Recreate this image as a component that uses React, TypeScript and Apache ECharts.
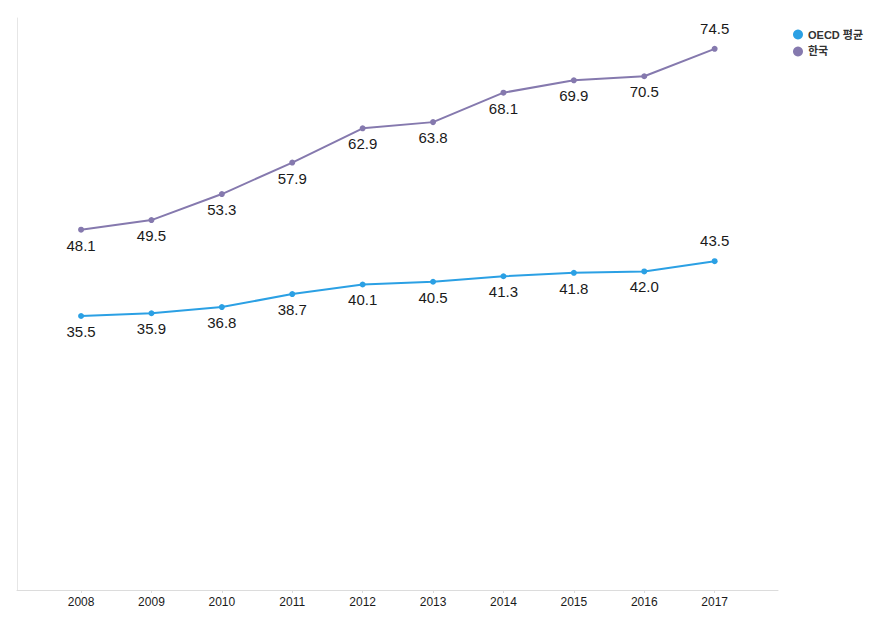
import React, { useEffect, useRef } from "react";
import * as echarts from "echarts";

const years = [2008, 2009, 2010, 2011, 2012, 2013, 2014, 2015, 2016, 2017];
const oecd = [35.5, 35.9, 36.8, 38.7, 40.1, 40.5, 41.3, 41.8, 42.0, 43.5];
const korea = [48.1, 49.5, 53.3, 57.9, 62.9, 63.8, 68.1, 69.9, 70.5, 74.5];
const seriesNames = ["OECD 평균", "한국"];

const FONT = "'Liberation Sans', Arial, 'Noto Sans CJK KR', sans-serif";

function mkData(vals: number[]) {
  return vals.map((v, i) => {
    const last = i === vals.length - 1;
    return {
      value: [years[i], v],
      label: last ? { position: "top", distance: 10 } : { position: "bottom", distance: 5 },
    };
  });
}

export default function App() {
  const ref = useRef<HTMLDivElement>(null);
  useEffect(() => {
    const chart = echarts.init(ref.current!, null, { renderer: "svg" });
    const labelCommon = {
      show: true,
      fontSize: 15,
      color: "#1a1a1a",
      fontFamily: FONT,
      formatter: (p: any) => p.value[1].toFixed(1),
    };
    chart.setOption({
      animation: false,
      backgroundColor: "#fff",
      grid: { left: 17, right: 100, top: 18, bottom: 30, containLabel: false },
      legend: {
        orient: "vertical",
        left: 788,
        top: 24,
        itemWidth: 10,
        itemHeight: 10,
        itemGap: 6,
        icon: "circle",
        textStyle: { fontSize: 11, color: "#333", fontFamily: FONT, fontWeight: "bold" },
        data: seriesNames,
      },
      xAxis: {
        type: "value",
        min: 2007.09,
        max: 2017.9,
        axisLine: { show: true, onZero: false, lineStyle: { color: "#dcdcdc", width: 1 } },
        axisTick: { show: true, customValues: years, length: 3, lineStyle: { color: "#dcdcdc" } },
        axisLabel: {
          customValues: years,
          fontSize: 12,
          color: "#1a1a1a",
          margin: 6,
          fontFamily: FONT,
          formatter: (v: number) => String(Math.round(v)),
        },
        splitLine: { show: false },
      },
      yAxis: {
        type: "value",
        min: -4.5,
        max: 79,
        axisLine: { show: true, onZero: false, lineStyle: { color: "#e6e6e6", width: 1 } },
        axisTick: { show: false },
        axisLabel: { show: false },
        splitLine: { show: false },
      },
      series: [
        {
          name: seriesNames[0],
          type: "line",
          data: mkData(oecd),
          symbol: "circle",
          symbolSize: 6,
          color: "#2ba0e4",
          lineStyle: { width: 2, color: "#2ba0e4" },
          label: labelCommon,
        },
        {
          name: seriesNames[1],
          type: "line",
          data: mkData(korea),
          symbol: "circle",
          symbolSize: 6,
          color: "#8579ae",
          lineStyle: { width: 2, color: "#8579ae" },
          label: labelCommon,
        },
      ],
    });
    return () => chart.dispose();
  }, []);
  return <div ref={ref} style={{ width: 878, height: 620, position: "absolute", left: 0, top: 0 }} />;
}
